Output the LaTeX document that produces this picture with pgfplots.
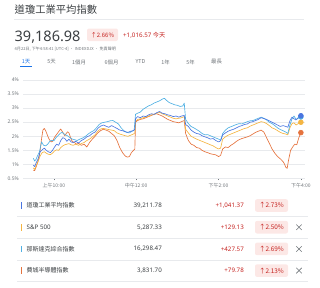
\documentclass[border=0pt]{standalone}
\usepackage{pgfplots}
\pgfplotsset{compat=1.18}
\usepackage{fontspec}
\setmainfont{Noto Sans}
\newfontfamily\cjk{Noto Sans CJK TC}
\definecolor{dowc}{HTML}{4A75E0}
\definecolor{spc}{HTML}{F4B542}
\definecolor{ndqc}{HTML}{4FB0E3}
\definecolor{soxc}{HTML}{E5733E}
\definecolor{txtdark}{HTML}{3C4043}
\definecolor{txtgray}{HTML}{70757A}
\definecolor{upred}{HTML}{C5221F}
\definecolor{badge}{HTML}{FCE8E6}
\definecolor{linegray}{HTML}{E8EAED}
\definecolor{tabblue}{HTML}{1A73E8}

\pgfplotstableread{
t v
0 0.98
2 0.92
4 1.05
7 1.2
10 1.45
13 1.52
16 1.58
19 1.5
22 1.45
25 1.42
28 1.5
31 1.62
34 1.72
37 1.68
40 1.85
43 1.95
46 1.92
49 1.82
52 1.9
55 1.8
58 1.78
62 1.82
66 1.76
70 1.85
74 1.9
78 1.98
82 2.02
86 2.1
90 2.15
94 2.28
98 2.36
102 2.4
106 2.36
110 2.32
114 2.38
118 2.33
122 2.28
126 2.22
130 2.2
134 2.16
138 2.14
142 2.18
146 2.2
148 2.25
149 2.62
152 2.7
156 2.66
160 2.72
164 2.7
168 2.76
172 2.8
176 2.78
180 2.84
184 2.88
188 2.82
192 2.8
196 2.76
200 2.74
204 2.7
208 2.72
212 2.68
216 2.72
220 2.74
222 2.42
226 2.35
230 2.22
234 2.15
238 2.1
242 2.08
246 2.02
250 1.98
254 1.95
258 1.9
262 1.92
266 1.85
270 1.8
273 1.84
276 2.05
280 2.12
284 2.18
288 2.22
292 2.25
296 2.3
300 2.35
304 2.38
308 2.42
312 2.44
316 2.5
320 2.52
324 2.56
328 2.6
332 2.66
336 2.63
340 2.6
344 2.55
348 2.5
352 2.45
356 2.4
360 2.35
364 2.38
368 2.35
371 2.32
374 2.55
377 2.68
380 2.62
383 2.58
386 2.66
390 2.73
}\dow

\pgfplotstableread{
t v
0 1.22
2 1.12
4 1.18
6 1.3
9 1.45
12 1.8
15 1.68
18 1.66
21 1.72
24 1.82
27 1.86
30 1.84
33 1.95
36 2.02
39 2.1
42 2.14
45 2.08
48 2.04
51 2.0
54 1.94
57 1.9
60 1.88
64 1.85
68 1.9
72 1.94
76 2.0
80 2.08
84 2.15
88 2.2
92 2.3
96 2.42
100 2.48
104 2.5
108 2.52
112 2.55
116 2.56
120 2.5
124 2.44
128 2.3
132 2.2
136 2.14
140 2.12
144 2.18
147 2.22
149 2.78
152 2.82
156 2.86
160 2.96
164 3.02
168 3.08
172 3.12
176 3.18
180 3.22
184 3.26
188 3.32
191 3.35
194 3.28
198 3.2
202 3.16
206 3.12
210 3.1
214 3.06
218 3.08
220 3.18
222 2.6
226 2.45
230 2.35
234 2.3
238 2.24
242 2.18
246 2.1
250 2.05
254 2.06
258 2.02
262 1.98
266 1.94
270 1.9
273 1.86
276 2.1
280 2.22
284 2.3
288 2.34
292 2.38
296 2.42
300 2.45
304 2.44
308 2.48
312 2.52
316 2.55
320 2.56
324 2.6
328 2.64
332 2.68
336 2.64
340 2.58
344 2.5
348 2.45
352 2.38
356 2.3
360 2.24
364 2.2
368 2.15
371 2.1
374 2.4
377 2.62
380 2.72
383 2.6
386 2.64
390 2.69
}\ndq

\pgfplotstableread{
t v
0 0.88
2 0.82
4 0.95
7 1.1
10 1.3
13 1.42
16 1.45
19 1.4
22 1.36
25 1.35
28 1.4
31 1.48
34 1.52
37 1.5
40 1.6
43 1.66
46 1.7
49 1.72
52 1.74
55 1.7
58 1.68
62 1.72
66 1.68
70 1.74
74 1.78
78 1.85
82 1.9
86 1.98
90 2.05
94 2.18
98 2.26
102 2.28
106 2.26
110 2.24
114 2.22
118 2.2
122 2.12
126 2.08
130 2.05
134 2.02
138 2.0
142 2.04
146 2.08
148 2.12
149 2.52
152 2.6
156 2.62
160 2.66
164 2.68
168 2.72
172 2.76
176 2.78
180 2.82
184 2.85
188 2.8
192 2.76
196 2.72
200 2.68
204 2.64
208 2.62
212 2.64
216 2.66
220 2.7
222 2.25
226 2.12
230 2.0
234 1.95
238 1.9
242 1.86
246 1.82
250 1.78
254 1.74
258 1.7
262 1.66
266 1.6
270 1.55
273 1.58
276 1.9
280 1.98
284 2.04
288 2.08
292 2.12
296 2.16
300 2.2
304 2.24
308 2.28
312 2.3
316 2.36
320 2.4
324 2.44
328 2.48
332 2.52
336 2.5
340 2.45
344 2.38
348 2.3
352 2.26
356 2.2
360 2.14
364 2.1
368 2.08
371 2.05
374 2.3
377 2.45
380 2.48
383 2.4
386 2.45
390 2.5
}\spx

\pgfplotstableread{
t v
0 0.8
2 0.78
4 0.9
6 1.05
8 1.2
10 1.5
12 1.9
14 2.22
16 2.28
18 2.2
20 2.08
22 1.95
24 1.86
26 1.8
28 1.82
30 1.92
32 2.0
35 2.1
38 2.2
40 2.26
42 2.18
44 2.1
46 2.02
48 2.1
50 2.16
52 2.12
54 1.98
56 1.85
58 1.8
60 1.78
63 1.72
66 1.75
70 1.68
74 1.72
78 1.62
82 1.78
86 1.9
90 2.0
94 2.12
98 2.2
102 2.25
106 2.22
110 2.18
114 2.1
118 2.02
122 1.85
126 1.6
130 1.42
134 1.3
137 1.26
140 1.28
143 1.42
146 1.5
148 1.55
149 2.5
152 2.56
156 2.6
160 2.62
164 2.66
168 2.7
172 2.74
176 2.78
180 2.8
184 2.76
188 2.72
192 2.66
196 2.6
200 2.56
204 2.52
208 2.5
212 2.48
216 2.52
220 2.56
222 2.1
226 1.85
230 1.72
234 1.68
238 1.6
242 1.58
246 1.5
250 1.45
254 1.42
258 1.38
262 1.36
266 1.34
270 1.28
273 1.32
276 1.55
280 1.62
284 1.6
288 1.68
292 1.74
296 1.82
300 1.88
304 1.92
308 1.95
312 1.98
316 2.02
320 2.08
324 2.14
328 2.18
332 2.22
336 2.15
340 1.95
344 1.75
348 1.55
352 1.4
356 1.28
360 1.2
364 1.1
366 1.02
368 0.9
370 0.86
372 1.15
375 1.5
378 1.62
381 1.72
384 1.7
387 1.95
390 2.13
}\sox

\begin{document}
\begin{tikzpicture}[x=1pt,y=1pt]
\path[use as bounding box] (0,0) rectangle (320,-287);

% header
\node[anchor=west,inner sep=0pt,text=txtdark,font=\cjk\fontsize{10.3}{12}\selectfont] at (14.5,-9.5) {道瓊工業平均指數};
\draw[linegray,line width=0.5pt] (14,-19) -- (304,-19);
\node[anchor=base west,inner sep=0pt,text=txtdark,font=\fontsize{14.5}{16}\selectfont] at (14.5,-41) {39,186.98};
\fill[badge,rounded corners=2pt] (87,-28.5) rectangle (118,-41);
\node[inner sep=0pt,text=upred,font=\cjk\fontsize{6}{7}\selectfont] at (102.5,-35) {↑2.66\%};
\node[anchor=west,inner sep=0pt,text=upred,font=\fontsize{6.2}{7}\selectfont] at (123,-35) {+1,016.57 {\cjk 今天}};
\node[anchor=west,inner sep=0pt,text=txtgray,font=\cjk\fontsize{4.1}{5}\selectfont] at (14.5,-49.5) {4月22日, 下午4:58:41 [UTC-4] · INDEXDJX · 免責聲明};
% tabs
\begin{scope}[every node/.style={inner sep=0pt,text=txtgray,font=\cjk\fontsize{5.4}{6}\selectfont}]
\node[text=tabblue] at (26,-62) {1天};
\node at (51.5,-62) {5天};
\node at (79,-62) {1個月};
\node at (111.5,-62) {6個月};
\node at (140.5,-62) {YTD};
\node at (165.5,-62) {1年};
\node at (190.5,-62) {5年};
\node at (216.5,-62) {最長};
\end{scope}
\draw[tabblue,line width=1pt] (20,-66.8) -- (32,-66.8);

\begin{axis}[
  at={(23pt,-178.5pt)}, anchor=south west,
  scale only axis, width=282pt, height=98.5pt,
  xmin=-15, xmax=396, ymin=0.5, ymax=4,
  axis line style={draw=none},
  ytick={0.5,1,...,4},
  ymajorgrids, grid style={linegray,line width=0.5pt},
  yticklabel={\pgfmathprintnumber{\tick}\%},
  /pgf/number format/assume math mode=true,
  yticklabel style={font=\fontsize{5}{6}\selectfont,text=txtgray,inner sep=0pt,xshift=-2.5pt},
  ytick style={draw=none},
  xtick={30,150,270,390},
  xticklabels={上午10:00,中午12:00,下午2:00,下午4:00},
  xticklabel style={font=\cjk\fontsize{5}{6}\selectfont,text=txtgray,inner sep=0pt,yshift=-3.5pt},
  xtick pos=bottom, tick align=outside, major tick length=1.5pt,
  xtick style={txtgray,line width=0.5pt},
  clip=false,
  every axis plot/.append style={line width=0.65pt, line join=round},
]
\addplot[soxc,no marks] table[x=t,y=v]{\sox};
\addplot[spc,no marks] table[x=t,y=v]{\spx};
\addplot[ndqc,no marks] table[x=t,y=v]{\ndq};
\addplot[dowc,no marks] table[x=t,y=v]{\dow};
\addplot[only marks,mark=*,mark size=2.4pt,soxc] coordinates {(390,2.13)};
\addplot[only marks,mark=*,mark size=2.4pt,spc] coordinates {(390,2.50)};
\addplot[only marks,mark=*,mark size=2.4pt,ndqc] coordinates {(390,2.69)};
\addplot[only marks,mark=*,mark size=2.4pt,dowc] coordinates {(390,2.73)};
\end{axis}

% table rows
\foreach \y in {216.5,238.2,259.9,281.6} {\draw[linegray,line width=0.5pt] (17,-\y) -- (308,-\y);}
\fill[dowc] (21,-202.2) rectangle (22.4,-208.8);
\fill[spc] (21,-223.9) rectangle (22.4,-230.5);
\fill[ndqc] (21,-245.6) rectangle (22.4,-252.2);
\fill[soxc] (21,-267.3) rectangle (22.4,-273.9);
\begin{scope}[every node/.style={inner sep=0pt,text=txtdark,font=\fontsize{6.2}{7}\selectfont}]
\node[anchor=west,font=\cjk\fontsize{6}{7}\selectfont] at (26.5,-205.5) {道瓊工業平均指數};
\node[anchor=west] at (26.5,-227.2) {S\&P 500};
\node[anchor=west,font=\cjk\fontsize{6}{7}\selectfont] at (26.5,-248.9) {那斯達克綜合指數};
\node[anchor=west,font=\cjk\fontsize{6}{7}\selectfont] at (26.5,-270.6) {費城半導體指數};
\node[anchor=east] at (162,-205.5) {39,211.78};
\node[anchor=east] at (162,-227.2) {5,287.33};
\node[anchor=east] at (162,-248.9) {16,298.47};
\node[anchor=east] at (162,-270.6) {3,831.70};
\node[anchor=east,text=upred] at (244,-205.5) {+1,041.37};
\node[anchor=east,text=upred] at (244,-227.2) {+129.13};
\node[anchor=east,text=upred] at (244,-248.9) {+427.57};
\node[anchor=east,text=upred] at (244,-270.6) {+79.78};
\end{scope}
\foreach \y/\p in {205.5/2.73,227.2/2.50,248.9/2.69,270.6/2.13} {
  \fill[badge,rounded corners=2pt] (255,-\y+6.3) rectangle (288,-\y-6.3);
  \node[inner sep=0pt,text=upred,font=\cjk\fontsize{6.4}{7}\selectfont] at (271.5,-\y) {↑\p\%};
}
\foreach \y in {227.2,248.9,270.6} {
  \draw[txtgray,line width=0.55pt] (296.3,-\y+2.7) -- (301.7,-\y-2.7);
  \draw[txtgray,line width=0.55pt] (296.3,-\y-2.7) -- (301.7,-\y+2.7);
}
\end{tikzpicture}
\end{document}
